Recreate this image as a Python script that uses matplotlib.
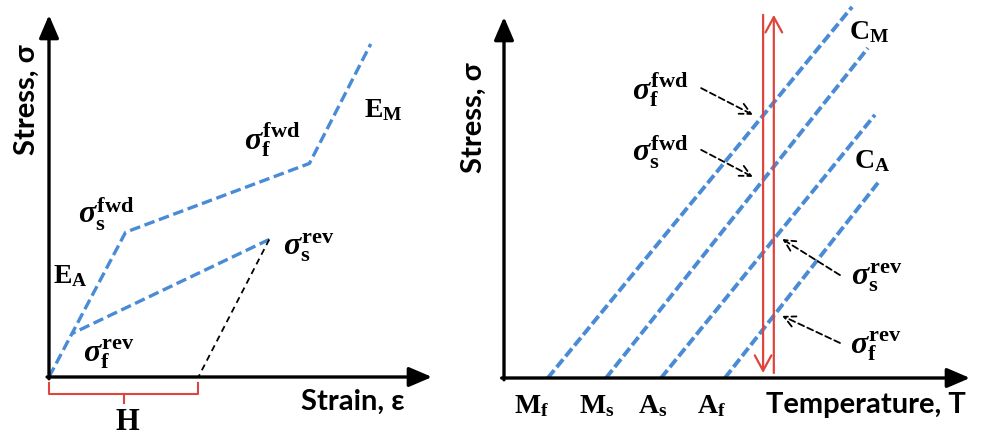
import matplotlib
matplotlib.use("Agg")
import matplotlib.pyplot as plt

plt.rcParams['mathtext.fontset'] = 'custom'
plt.rcParams['mathtext.rm'] = 'Liberation Serif:bold'
plt.rcParams['mathtext.it'] = 'Liberation Serif:bold:italic'
plt.rcParams['mathtext.bf'] = 'Liberation Serif:bold'

BLUE = '#4a8bd6'
RED = '#e0443f'
SANS = 'Lato'
SANS_SIZE = 21
SIGMA_SIZE = 23

# --- stress-strain response (pseudoelastic loop) ---
strain_load = [0.0, 2.0, 6.8, 8.4]
stress_load = [0.0, 4.0, 5.9, 9.2]
strain_unload = [5.75, 0.6]
stress_unload = [3.8, 1.2]
strain_recover = [5.75, 3.9]
stress_recover = [3.8, 0.0]
H_strain = 3.9

left_labels = [r'$\mathrm{E_M}$', r'$\mathrm{E_A}$',
               r'$\sigma_{\mathrm{f}}^{\mathrm{fwd}}$', r'$\sigma_{\mathrm{s}}^{\mathrm{fwd}}$',
               r'$\sigma_{\mathrm{s}}^{\mathrm{rev}}$', r'$\sigma_{\mathrm{f}}^{\mathrm{rev}}$']
left_label_x = [8.72, 0.55, 5.82, 1.49, 6.79, 1.57]
left_label_y = [7.40, 2.82, 6.55, 4.50, 3.56, 0.64]
left_label_size = [20, 20, SIGMA_SIZE, SIGMA_SIZE, SIGMA_SIZE, SIGMA_SIZE]

# --- stress-temperature phase diagram ---
T_start = [0.94, 2.19, 3.37, 4.74]
T_end = [7.47, 7.81, 7.96, 8.07]
sigma_end = [10.28, 9.14, 7.29, 5.48]
temp_ticks = [r'$\mathrm{M_f}$', r'$\mathrm{M_s}$', r'$\mathrm{A_s}$', r'$\mathrm{A_f}$']
temp_tick_x = [0.60, 2.00, 3.20, 4.46]

T_loading = 5.56
T_unloading = 5.79
sigma_path = [10.06, 0.14]

phase_labels = [r'$\mathrm{C_M}$', r'$\mathrm{C_A}$']
phase_label_x = [7.83, 7.90]
phase_label_y = [9.61, 6.04]

crit_labels = [r'$\sigma_{\mathrm{f}}^{\mathrm{fwd}}$', r'$\sigma_{\mathrm{s}}^{\mathrm{fwd}}$',
               r'$\sigma_{\mathrm{s}}^{\mathrm{rev}}$', r'$\sigma_{\mathrm{f}}^{\mathrm{rev}}$']
crit_text_x = [3.35, 3.35, 8.00, 7.98]
crit_text_y = [7.98, 6.26, 2.77, 0.89]
crit_tail_x = [4.23, 4.23, 7.21, 7.21]
crit_tail_y = [8.03, 6.32, 2.85, 0.97]
crit_tip_x = [5.34, 5.34, 5.97, 5.97]
crit_tip_y = [7.29, 5.57, 3.85, 1.72]

W, H = 989, 437
fig = plt.figure(figsize=(W / 100, H / 100), dpi=100)


def draw_axes(ax):
    ax.set_xlim(0, 10)
    ax.set_ylim(0, 10)
    ax.axis('off')
    head = dict(arrowstyle='-|>,head_length=0.7,head_width=0.3', color='black',
                lw=2.4, mutation_scale=20, shrinkA=0, shrinkB=0)
    ax.annotate('', xy=(10, 0), xytext=(-0.05, 0), arrowprops=head, annotation_clip=False)
    ax.annotate('', xy=(0, 10), xytext=(0, -0.05), arrowprops=head, annotation_clip=False)


# left panel
ax1 = fig.add_axes([49 / W, 60 / H, 383 / W, 362 / H])
draw_axes(ax1)
ax1.plot(strain_load, stress_load, color=BLUE, lw=2.4, dashes=(3.2, 1.4), clip_on=False)
ax1.plot(strain_unload, stress_unload, color=BLUE, lw=2.4, dashes=(3.2, 1.4), clip_on=False)
ax1.plot(strain_recover, stress_recover, color='black', lw=1.3, dashes=(3.5, 2.5), clip_on=False)
for lab, x, y, fs in zip(left_labels, left_label_x, left_label_y, left_label_size):
    ax1.text(x, y, lab, fontsize=fs, ha='center', va='center')

# bracket for recoverable strain H
ax1.plot([0, 0, H_strain, H_strain], [-0.17, -0.47, -0.47, -0.17], color=RED, lw=1.5, clip_on=False)
ax1.plot([H_strain / 2, H_strain / 2], [-0.47, -0.72], color=RED, lw=1.5, clip_on=False)
ax1.text(2.04, -1.24, r'$\mathrm{H}$', fontsize=22, ha='center', va='center')

ax1.text(-0.58, 7.65, 'Stress, σ', fontsize=SANS_SIZE, fontweight='bold', family=SANS,
         rotation=90, ha='center', va='center')
ax1.text(7.94, -0.68, 'Strain, ε', fontsize=SANS_SIZE, fontweight='bold', family=SANS,
         ha='center', va='center')

# right panel
ax2 = fig.add_axes([504 / W, 59 / H, 466 / W, 361 / H])
draw_axes(ax2)
for t0, t1, s1 in zip(T_start, T_end, sigma_end):
    ax2.plot([t0, t1], [0, s1], color=BLUE, lw=2.8, dashes=(2.6, 1.0), clip_on=False)

red_arrow = dict(arrowstyle='->,head_length=0.55,head_width=0.3', color=RED, lw=1.6,
                 mutation_scale=20, shrinkA=0, shrinkB=0)
ax2.annotate('', xy=(T_loading, sigma_path[1]), xytext=(T_loading, sigma_path[0]),
             arrowprops=red_arrow, annotation_clip=False)
ax2.annotate('', xy=(T_unloading, sigma_path[0]), xytext=(T_unloading, sigma_path[1]),
             arrowprops=red_arrow, annotation_clip=False)

for lab, x, y in zip(phase_labels, phase_label_x, phase_label_y):
    ax2.text(x, y, lab, fontsize=20, ha='center', va='center')

dash_arrow = dict(arrowstyle='->,head_length=0.5,head_width=0.25', color='black', lw=1.3,
                  linestyle=(0, (3.5, 2)), mutation_scale=16, shrinkA=0, shrinkB=0)
for lab, tx, ty, ax_, ay, px, py in zip(crit_labels, crit_text_x, crit_text_y,
                                         crit_tail_x, crit_tail_y, crit_tip_x, crit_tip_y):
    ax2.text(tx, ty, lab, fontsize=SIGMA_SIZE, ha='center', va='center')
    ax2.annotate('', xy=(px, py), xytext=(ax_, ay), arrowprops=dash_arrow, annotation_clip=False)

for lab, x in zip(temp_ticks, temp_tick_x):
    ax2.text(x, -0.75, lab, fontsize=20, ha='center', va='center')

ax2.text(7.77, -0.75, 'Temperature, T', fontsize=SANS_SIZE, fontweight='bold', family=SANS,
         ha='center', va='center')
ax2.text(-0.65, 7.2, 'Stress, σ', fontsize=SANS_SIZE, fontweight='bold', family=SANS,
         rotation=90, ha='center', va='center')

fig.savefig('out.png', dpi=100)
